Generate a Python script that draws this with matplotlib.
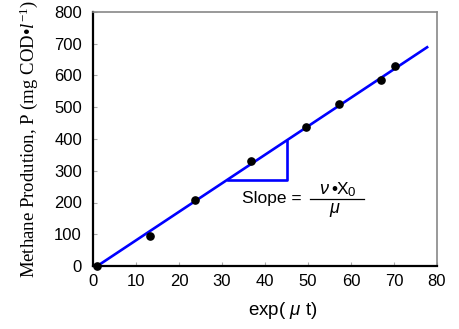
import matplotlib.pyplot as plt
from matplotlib.lines import Line2D

plt.rcParams['mathtext.fontset'] = 'custom'
plt.rcParams['mathtext.rm'] = 'Liberation Serif'
plt.rcParams['mathtext.it'] = 'Liberation Serif:italic'
plt.rcParams['mathtext.sf'] = 'Liberation Sans:italic'

# data
exp_mu_t = [1, 13.2, 23.7, 36.8, 49.5, 57.3, 67.0, 70.3]
production = [0, 95, 208, 332, 437, 511, 586, 631]

fit_x = [1, 77.7]
fit_y = [0, 689]

# slope triangle corners (x, y)
tri_x = [31.3, 45.0, 45.0]
tri_y = [271, 271, 394]

x_ticks = [0, 10, 20, 30, 40, 50, 60, 70, 80]
y_ticks = [0, 100, 200, 300, 400, 500, 600, 700, 800]

W, H = 459, 329
fig = plt.figure(figsize=(W / 100, H / 100), dpi=100)
ax = fig.add_axes([93 / W, 1 - 266 / H, 344 / W, 254 / H])

ax.plot(fit_x, fit_y, color='#0000ff', lw=1.9, zorder=2)
ax.plot(tri_x, tri_y, color='#0000ff', lw=1.9, zorder=2)
ax.plot(exp_mu_t, production, 'o', color='black', ms=5.2, zorder=3, clip_on=False)

ax.set_xlim(0, 80)
ax.set_ylim(0, 800)
ax.set_xticks(x_ticks)
ax.set_yticks(y_ticks)

for side in ['left', 'bottom']:
    ax.spines[side].set_color('black')
    ax.spines[side].set_linewidth(1.6)
for side in ['top', 'right']:
    ax.spines[side].set_color('#888888')
    ax.spines[side].set_linewidth(1.2)

ax.tick_params(direction='in', length=3, width=0.8, color='#aaaaaa')
ax.tick_params(axis='y', pad=8)
ax.tick_params(axis='x', pad=6)
for lbl in ax.get_xticklabels() + ax.get_yticklabels():
    lbl.set_fontfamily('Liberation Sans')
    lbl.set_fontsize(12)

ax.set_xlabel(r'exp( $\mathsf{\mu}$ t)', family='Liberation Sans', fontsize=13.5)
ax.xaxis.set_label_coords((283 - 93) / 344, -0.135)
ax.set_ylabel('Methane Prodution, P (mg COD•$\\mathit{l}^{-1}$)',
              family='Liberation Serif', fontsize=13.5)
ax.yaxis.set_label_coords(-0.155, 0.5)


def px(x, y):
    # pixel position (from top-left) to figure fraction
    return x / W, 1 - y / H


fig.text(*px(242, 199), 'Slope = ', family='Liberation Sans',
         fontsize=12.5, va='center', ha='left')
fig.text(*px(319, 189), r'$\mathsf{\nu}$', family='Liberation Sans',
         fontsize=13, va='center', ha='left')
fig.text(*px(331, 189), '•X', family='Liberation Sans',
         fontsize=12.5, va='center', ha='left')
fig.text(*px(348, 193), '0', family='Liberation Sans',
         fontsize=9.5, va='center', ha='left')
fig.text(*px(335, 210), r'$\mathsf{\mu}$', family='Liberation Sans',
         fontsize=13, va='center', ha='center')
x0, y0 = px(310, 199)
x1, y1 = px(364, 199)
fig.add_artist(Line2D([x0, x1], [y0, y1], color='black', lw=0.9))

fig.savefig('out.png', dpi=100)
